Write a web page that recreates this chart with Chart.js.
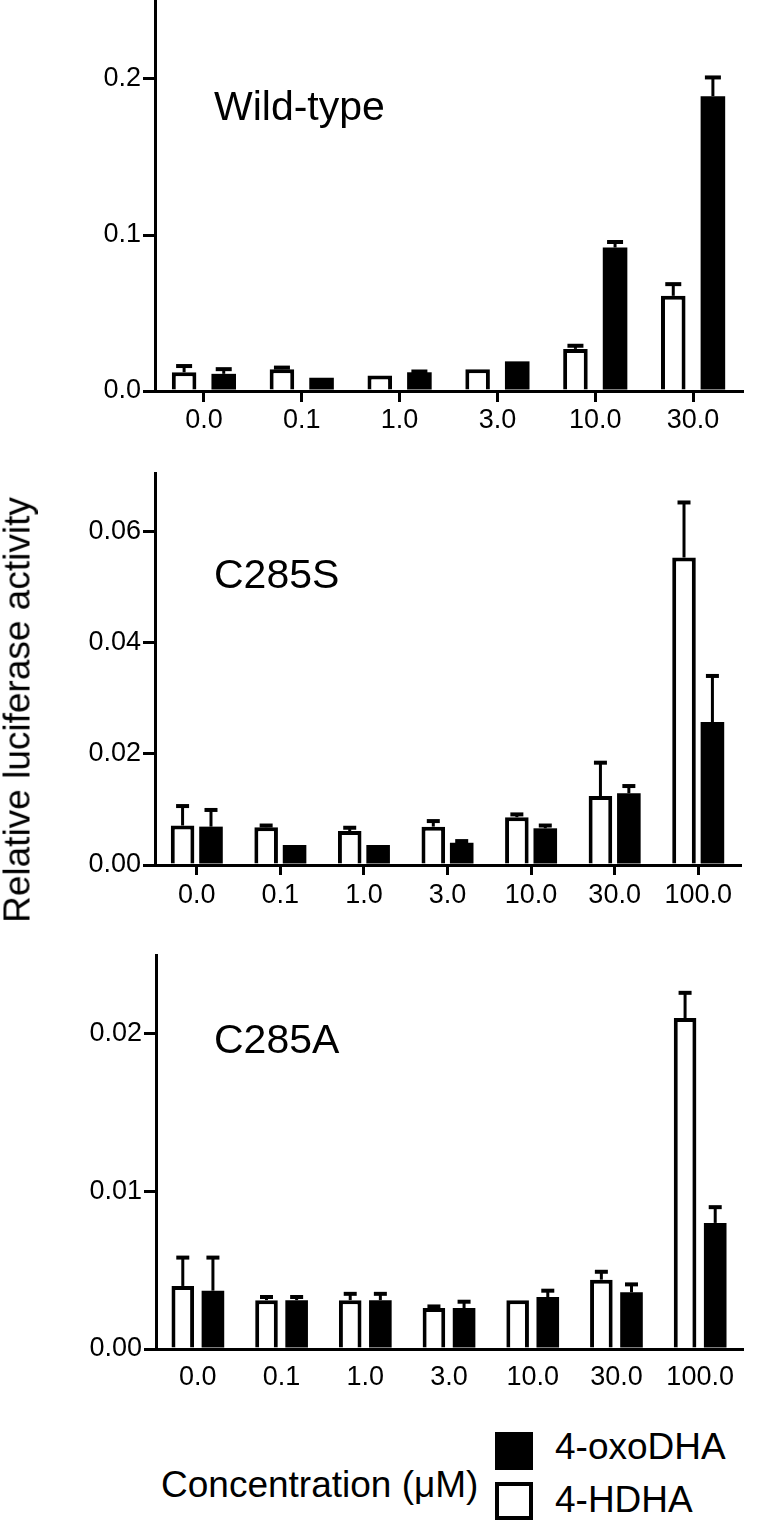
<!DOCTYPE html>
<html>
<head>
<meta charset="utf-8">
<script src="https://cdn.jsdelivr.net/npm/chart.js@4.4.0/dist/chart.umd.min.js"></script>
<style>
  body { margin: 0; background: #fff; width: 758px; height: 1530px; position: relative; overflow: hidden;
         font-family: 'Liberation Sans', Arial, sans-serif; color: #000; }
  canvas { position: absolute; left: 0; }
  .name { position: absolute; left: 214px; font-size: 41px; line-height: 41px; white-space: nowrap; }
  #ytitle { position: absolute; left: 17px; top: 710px; font-size: 37px; line-height: 37px; white-space: nowrap;
            transform: translate(-50%, -50%) rotate(-90deg); }
  #xtitle { position: absolute; left: 161px; top: 1466px; font-size: 37px; line-height: 37px; white-space: nowrap; }
  .key { position: absolute; left: 495px; width: 38px; height: 38px; box-sizing: border-box; }
  .key-text { position: absolute; left: 555px; font-size: 37px; line-height: 37px; white-space: nowrap; }
</style>
</head>
<body>
<canvas id="wtChart" width="758" height="440" style="top:0px"></canvas>
<canvas id="c285sChart" width="758" height="460" style="top:460px"></canvas>
<canvas id="c285aChart" width="758" height="460" style="top:940px"></canvas>

<div class="name" style="top:86px">Wild-type</div>
<div class="name" style="top:554px">C285S</div>
<div class="name" style="top:1019px">C285A</div>

<div id="ytitle">Relative luciferase activity</div>
<div id="xtitle">Concentration (μM)</div>
<div class="key" style="top:1432px; background:#000"></div>
<div class="key-text" style="top:1428px">4-oxoDHA</div>
<div class="key" style="top:1482px; border:4px solid #000; background:#fff"></div>
<div class="key-text" style="top:1481px">4-HDHA</div>

<script>
// Concentrations (µM)
const wtLabels = ['0.0', '0.1', '1.0', '3.0', '10.0', '30.0'];
const mutLabels = ['0.0', '0.1', '1.0', '3.0', '10.0', '30.0', '100.0'];

// Wild-type
const wtHdha = [0.012, 0.014, 0.010, 0.014, 0.027, 0.061];
const wtHdhaErr = [0.004, 0.001, 0, 0, 0.002, 0.0075];
const wtOxo = [0.011, 0.0085, 0.012, 0.019, 0.092, 0.189];
const wtOxoErr = [0.003, 0, 0.0005, 0, 0.0035, 0.012];
const wtTicks = [0, 0.1, 0.2];
const wtMax = 0.25;

// C285S
const c285sHdha = [0.0071, 0.0068, 0.0061, 0.0069, 0.0086, 0.0124, 0.0553];
const c285sHdhaErr = [0.0035, 0.0003, 0.0006, 0.001, 0.0005, 0.006, 0.0099];
const c285sOxo = [0.0069, 0.0036, 0.0036, 0.0040, 0.0066, 0.0129, 0.0257];
const c285sOxoErr = [0.003, 0, 0, 0.0003, 0.0005, 0.0013, 0.0083];
const c285sTicks = [0, 0.02, 0.04, 0.06];
const c285sMax = 0.0705;

// C285A
const c285aHdha = [0.0040, 0.0031, 0.0031, 0.0026, 0.0031, 0.0044, 0.0210];
const c285aHdhaErr = [0.0018, 0.0002, 0.0004, 0.0001, 0, 0.0005, 0.0016];
const c285aOxo = [0.0037, 0.0031, 0.0031, 0.0026, 0.0033, 0.0036, 0.0080];
const c285aOxoErr = [0.0021, 0.0002, 0.0004, 0.0004, 0.0004, 0.0005, 0.001];
const c285aTicks = [0, 0.01, 0.02];
const c285aMax = 0.025;

Chart.defaults.font.family = "'Liberation Sans', Arial, sans-serif";
Chart.defaults.color = '#000';

// barres d'erreur (vers le haut seulement)
const errorBars = {
    id: 'errorBars',
    afterDatasetsDraw(chart, args, opts) {
        const ctx = chart.ctx;
        const yScale = chart.scales.y;
        chart.data.datasets.forEach((ds, i) => {
            chart.getDatasetMeta(i).data.forEach((bar, j) => {
                const e = ds.errors[j];
                if (!e) return;
                const top = yScale.getPixelForValue(ds.data[j] + e);
                ctx.save();
                ctx.strokeStyle = '#000';
                ctx.lineWidth = 3;
                ctx.beginPath();
                ctx.moveTo(bar.x, bar.y);
                ctx.lineTo(bar.x, top);
                ctx.stroke();
                ctx.lineWidth = 4;
                ctx.beginPath();
                ctx.moveTo(bar.x - opts.cap / 2, top);
                ctx.lineTo(bar.x + opts.cap / 2, top);
                ctx.stroke();
                ctx.restore();
            });
        });
    }
};

function makePanel(id, labels, hdha, hdhaErr, oxo, oxoErr, yTicks, yMax, decimals, g) {
    new Chart(document.getElementById(id), {
        type: 'bar',
        data: {
            labels: labels,
            datasets: [{
                label: '4-HDHA',
                data: hdha,
                errors: hdhaErr,
                backgroundColor: '#fff',
                borderColor: '#000',
                borderWidth: 4,
                borderSkipped: 'bottom',
                categoryPercentage: g.cp,
                barPercentage: g.bp
            }, {
                label: '4-oxoDHA',
                data: oxo,
                errors: oxoErr,
                backgroundColor: '#000',
                borderWidth: 0,
                categoryPercentage: g.cp,
                barPercentage: g.bp
            }]
        },
        options: {
            responsive: false,
            animation: false,
            layout: { autoPadding: false, padding: { left: 0, right: 758 - g.right, top: g.top, bottom: 0 } },
            plugins: {
                legend: { display: false },
                tooltip: { enabled: false },
                errorBars: { cap: g.cap }
            },
            scales: {
                x: {
                    grid: { display: true, drawOnChartArea: false, offset: false, color: '#000', lineWidth: 3,
                            drawTicks: g.xTick > 0, tickLength: g.xTick },
                    border: { display: true, color: '#000', width: 3 },
                    ticks: { font: { size: 27 }, padding: g.xPad, maxRotation: 0, autoSkip: false },
                    afterFit: s => { s.height = g.xH; s.paddingLeft = 0; s.paddingRight = 0; }
                },
                y: {
                    min: 0,
                    max: yMax,
                    afterBuildTicks: s => { s.ticks = yTicks.map(v => ({ value: v })); },
                    grid: { drawOnChartArea: false, color: '#000', lineWidth: 3, tickLength: 12 },
                    border: { display: true, color: '#000', width: 3 },
                    ticks: { font: { size: 27 }, padding: 2, callback: v => v.toFixed(decimals) },
                    afterFit: s => { s.width = g.left; s.paddingTop = 0; s.paddingBottom = 0; }
                }
            }
        },
        plugins: [errorBars]
    });
}

makePanel('wtChart', wtLabels, wtHdha, wtHdhaErr, wtOxo, wtOxoErr, wtTicks, wtMax, 1,
    { left: 155, right: 742, top: 1, xH: 49, xTick: 11, xPad: 2, cp: 0.81, bp: 0.62, cap: 16 });
makePanel('c285sChart', mutLabels, c285sHdha, c285sHdhaErr, c285sOxo, c285sOxoErr, c285sTicks, c285sMax, 2,
    { left: 155, right: 740, top: 13, xH: 55, xTick: 10, xPad: 4, cp: 0.68, bp: 0.83, cap: 13 });
makePanel('c285aChart', mutLabels, c285aHdha, c285aHdhaErr, c285aOxo, c285aOxoErr, c285aTicks, c285aMax, 2,
    { left: 156, right: 742, top: 15, xH: 51, xTick: 0, xPad: 12, cp: 0.72, bp: 0.75, cap: 13 });
</script>
</body>
</html>
